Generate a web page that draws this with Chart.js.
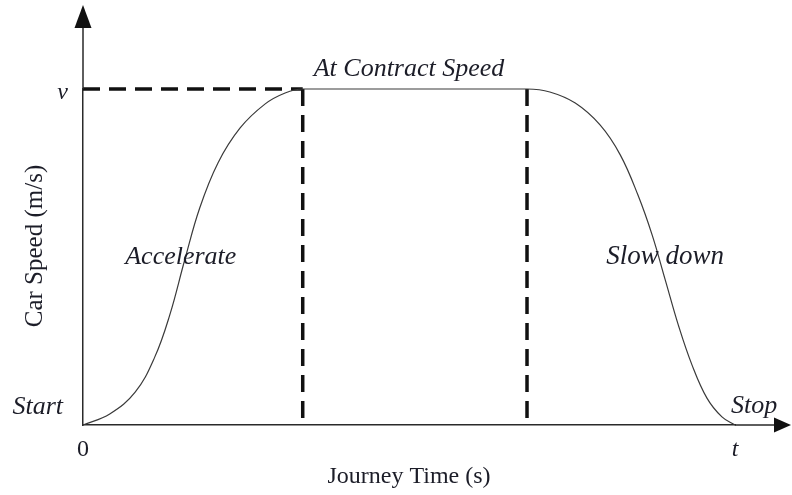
<!DOCTYPE html>
<html>
<head>
<meta charset="utf-8">
<script src="https://cdn.jsdelivr.net/npm/chart.js@4.4.1/dist/chart.umd.min.js"></script>
<style>
  html, body { margin: 0; padding: 0; background: #fff; }
  #wrap { width: 792px; height: 495px; }
</style>
</head>
<body>
<div id="wrap"><canvas id="c" width="792" height="495"></canvas></div>
<script>
// journey time in arbitrary units (0 .. t), speed as fraction of contract speed v
const T_END = 10;
const T_CRUISE_START = 3.37;
const T_CRUISE_END = 6.81;

const speedTime  = [0, 0.41, 0.80, 1.10, 1.33, 1.56, 1.79, 2.07, 2.41, 2.79, 3.10, 3.37,
                    6.81, 7.16, 7.55, 7.93, 8.24, 8.51, 8.73, 8.93, 9.13, 9.34, 9.57, 9.80, 10];
const speedValue = [0, 0.033, 0.098, 0.202, 0.327, 0.491, 0.646, 0.780, 0.884, 0.955, 0.988, 1,
                    1, 0.991, 0.958, 0.893, 0.804, 0.685, 0.565, 0.432, 0.298, 0.179, 0.080, 0.024, 0];

const xTickValues = [0, T_END];
const xTickLabels = ['0', 't'];
const yTickValues = [1];
const yTickLabels = ['v'];

const INK = '#1c1d28';
const SERIF = '"Liberation Serif", "Times New Roman", serif';

const curve = speedTime.map((t, i) => ({x: t, y: speedValue[i]}));
const guideH  = [{x: 0, y: 1}, {x: T_CRUISE_START, y: 1}];
const guideV1 = [{x: T_CRUISE_START, y: 1}, {x: T_CRUISE_START, y: 0}];
const guideV2 = [{x: T_CRUISE_END, y: 1}, {x: T_CRUISE_END, y: 0}];

function dashed(data) {
    return {
        data, showLine: true, pointRadius: 0, borderColor: '#111', borderWidth: 3.5,
        borderDash: [17, 9], borderCapStyle: 'butt', clip: false, order: 2
    };
}

// axis arrows, y title and free text labels
const extras = {
    id: 'extras',
    afterDatasetsDraw(chart) {
        const {ctx, scales: {x, y}} = chart;
        const x0 = x.getPixelForValue(0), y0 = y.getPixelForValue(0);
        const xEnd = x.right, yTop = y.top;
        ctx.save();
        ctx.strokeStyle = '#2a2a2a';
        ctx.fillStyle = '#111';
        ctx.lineWidth = 1.5;
        // extend axes past the chart area
        ctx.beginPath();
        ctx.moveTo(xEnd, y0); ctx.lineTo(778, y0);
        ctx.moveTo(x0, yTop); ctx.lineTo(x0, 26);
        ctx.stroke();
        // y arrow
        ctx.beginPath();
        ctx.moveTo(x0, 5); ctx.lineTo(x0 - 8.5, 28); ctx.lineTo(x0 + 8.5, 28); ctx.closePath();
        ctx.fill();
        // x arrow
        ctx.beginPath();
        ctx.moveTo(791, y0); ctx.lineTo(774, y0 - 7.5); ctx.lineTo(774, y0 + 7.5); ctx.closePath();
        ctx.fill();

        ctx.fillStyle = INK;
        // y axis title
        ctx.save();
        ctx.translate(35, 246);
        ctx.rotate(-Math.PI / 2);
        ctx.font = '25px ' + SERIF;
        ctx.textAlign = 'center';
        ctx.textBaseline = 'middle';
        ctx.fillText('Car Speed (m/s)', 0, 0);
        ctx.restore();

        ctx.font = 'italic 26px ' + SERIF;
        ctx.textAlign = 'center';
        ctx.textBaseline = 'alphabetic';
        ctx.fillText('At Contract Speed', x.getPixelForValue(5.0), y.getPixelForValue(1) - 13);
        ctx.textBaseline = 'middle';
        ctx.fillText('Accelerate', x.getPixelForValue(1.5), y.getPixelForValue(0.5));
        ctx.font = 'italic 27px ' + SERIF;
        ctx.fillText('Slow down', x.getPixelForValue(8.93), y.getPixelForValue(0.5));
        ctx.font = 'italic 26px ' + SERIF;
        ctx.textBaseline = 'alphabetic';
        ctx.textAlign = 'right';
        ctx.fillText('Start', x0 - 20, y0 - 11);
        ctx.textAlign = 'left';
        ctx.fillText('Stop', x.getPixelForValue(T_END) - 4, y0 - 12);
        ctx.restore();
    }
};

new Chart(document.getElementById('c'), {
    type: 'scatter',
    data: {
        datasets: [
            {
                data: curve, showLine: true, pointRadius: 0, borderColor: '#3a3a3a', borderWidth: 1.2,
                tension: 0.4, clip: false, order: 1
            },
            dashed(guideH),
            dashed(guideV1),
            dashed(guideV2)
        ]
    },
    options: {
        responsive: false,
        animation: false,
        layout: {padding: {left: 17, right: 57, top: 89, bottom: 0}},
        plugins: {legend: {display: false}, tooltip: {enabled: false}},
        scales: {
            x: {
                type: 'linear', min: 0, max: T_END,
                grid: {display: false, drawTicks: false},
                border: {display: true, color: '#2a2a2a', width: 1.5},
                afterBuildTicks: s => { s.ticks = xTickValues.map(v => ({value: v})); },
                afterFit: s => { s.height = 70; },
                ticks: {
                    padding: 10, color: INK,
                    font: c => ({family: SERIF, size: 24, style: c.index === 0 ? 'normal' : 'italic'}),
                    callback: (v, i) => xTickLabels[i]
                },
                title: {display: true, text: 'Journey Time (s)', color: INK, font: {family: SERIF, size: 24}}
            },
            y: {
                type: 'linear', min: 0, max: 1,
                grid: {display: false, drawTicks: false},
                border: {display: true, color: '#2a2a2a', width: 1.5},
                afterBuildTicks: s => { s.ticks = yTickValues.map(v => ({value: v})); },
                afterFit: s => { s.width = 66; },
                ticks: {
                    padding: 15, labelOffset: 4, color: INK,
                    font: {family: SERIF, size: 24, style: 'italic'},
                    callback: (v, i) => yTickLabels[i]
                },
                title: {display: false}
            }
        }
    },
    plugins: [extras]
});
</script>
</body>
</html>
